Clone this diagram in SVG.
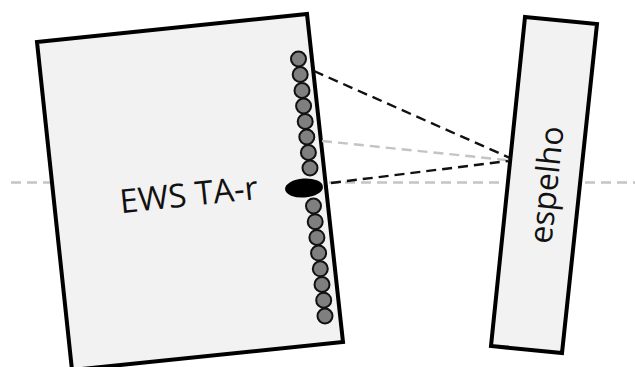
<svg xmlns="http://www.w3.org/2000/svg" width="635" height="367" viewBox="0 0 635 367">
<style>
.box{fill:#f2f2f2;stroke:#000;stroke-width:4;stroke-linejoin:miter}
.el{fill:#7f7f7f;stroke:#111;stroke-width:2}
.d{fill:none;stroke-width:2.400;stroke-dasharray:10 6}
.k{stroke:#111}
.g{stroke:#c4c4c4}
.t{font-family:"Open Sans","Liberation Sans",sans-serif;fill:#111}
</style>
<rect width="635" height="367" fill="#fff"/>
<g id="axis-back"><path class="d g" d="M11 182.500H51M329 182.500H505M585 182.500H635"/></g>
<g id="tank">
<path class="box" d="M37 42L307 14L343 342L72 370Z"/>
<text class="t" font-size="33" text-anchor="middle" transform="translate(190 206) rotate(-6)">EWS TA-r</text>
</g>
<g id="mirror">
<path class="box" d="M525 17L597 24L562 353L491 346Z"/>
<text class="t" font-size="32" text-anchor="middle" transform="translate(557.500 186) rotate(-84)">espelho</text>
</g>
<g id="elements">
<circle class="el" cx="298.500" cy="59" r="7.500"/>
<circle class="el" cx="300.200" cy="74.500" r="7.500"/>
<circle class="el" cx="302" cy="90.500" r="7.500"/>
<circle class="el" cx="303.600" cy="106" r="7.500"/>
<circle class="el" cx="305.200" cy="121.500" r="7.500"/>
<circle class="el" cx="306.800" cy="137" r="7.500"/>
<circle class="el" cx="308.400" cy="152.500" r="7.500"/>
<circle class="el" cx="310" cy="168" r="7.500"/>
<circle class="el" cx="313.500" cy="206" r="7.500"/>
<circle class="el" cx="315.200" cy="221.700" r="7.500"/>
<circle class="el" cx="316.900" cy="237.400" r="7.500"/>
<circle class="el" cx="318.600" cy="253.100" r="7.500"/>
<circle class="el" cx="320.300" cy="268.800" r="7.500"/>
<circle class="el" cx="322" cy="284.500" r="7.500"/>
<circle class="el" cx="323.700" cy="300.200" r="7.500"/>
<circle class="el" cx="325" cy="316" r="7.500"/>
</g>
<g id="source"><ellipse cx="304" cy="188" rx="19" ry="9.500" fill="#000" transform="rotate(-4 304 188)"/></g>
<g id="connectors">
<path class="d g" d="M322 141L506 160"/>
<path class="d k" d="M314 71L510 158"/>
<path class="d k" d="M331 183L508 161"/>
</g>
</svg>
